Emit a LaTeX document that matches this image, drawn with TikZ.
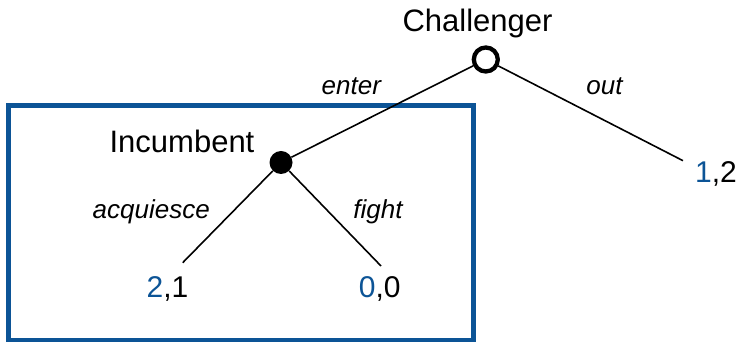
\documentclass[tikz,border=0pt]{standalone}
\usepackage{fontspec}
\setmainfont{Liberation Sans}
\definecolor{boxblue}{RGB}{12,84,150}
\begin{document}
\begin{tikzpicture}[x=1pt,y=1pt,
  player/.style={font=\fontsize{31}{36}\selectfont, anchor=base, inner sep=0pt},
  move/.style={font=\fontsize{26}{30}\selectfont\itshape, anchor=base, inner sep=0pt},
  payoff/.style={font=\fontsize{30}{34}\selectfont, anchor=base, inner sep=0pt},
  opennode/.style={circle, draw, line width=4.3pt, minimum size=24pt, inner sep=0pt},
  fullnode/.style={circle, fill, minimum size=23pt, inner sep=0pt},
  branch/.style={line width=1.6pt}]
\useasboundingbox (0,0) rectangle (739,342);
% subgame box
\draw[boxblue, line width=5pt] (8.5,1.5) rectangle (473.5,236.2);
% decision nodes
\node[opennode] (C) at (485.8,282.5) {};
\node[fullnode] (I) at (281,179.5) {};
% terminal points
\coordinate (out) at (683,181.3);
\coordinate (acq) at (182.7,79.3);
\coordinate (fgt) at (381,76);
% branches
\draw[branch] (C) -- (I);
\draw[branch] (C) -- (out);
\draw[branch] (I) -- (acq);
\draw[branch] (I) -- (fgt);
% labels
\node[player] (lc) at (477.5,310) {Challenger};
\node[player] (li) at (182,189.7) {Incumbent};
\node[move] (le) at (351.3,247) {enter};
\node[move] (lo) at (604.5,247) {out};
\node[move] (la) at (151.2,123.7) {acquiesce};
\node[move] (lf) at (378,123.7) {fight};
% payoffs
\node[payoff] (p1) at (716,159) {{\color{boxblue}1},2};
\node[payoff] (p2) at (167.5,44) {{\color{boxblue}2},1};
\node[payoff] (p3) at (379.8,44) {{\color{boxblue}0},0};
\end{tikzpicture}
\end{document}
